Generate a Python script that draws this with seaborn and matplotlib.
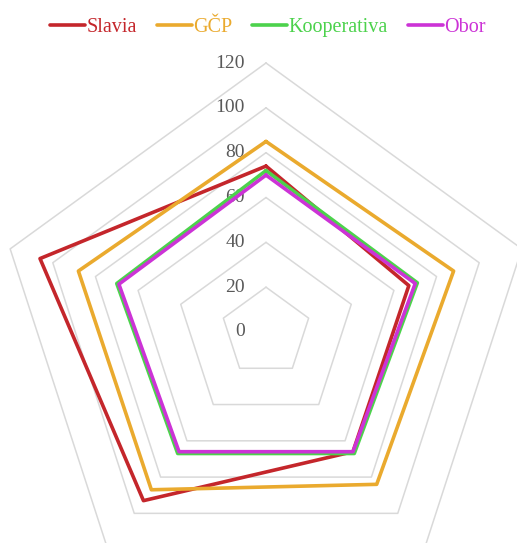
import numpy as np
import pandas as pd
import seaborn as sns
import matplotlib.pyplot as plt
from matplotlib.lines import Line2D

# values per axis: top, upper-right, lower-right, lower-left, upper-left
companies = ['Slavia', 'GČP', 'Kooperativa', 'Obor']
slavia = [74, 67, 66, 93, 106]
gcp = [85, 88, 84, 87, 88]
kooperativa = [72, 71, 67, 67, 70]
obor = [70, 70, 66, 66, 69]
tick_values = [0, 20, 40, 60, 80, 100, 120]

colors = ['#C4262B', '#EAAA2E', '#4CD24C', '#CC33D6']

sns.set_style('white')
plt.rcParams['font.family'] = ['Liberation Serif', 'DejaVu Serif']

n_axes = len(slavia)
theta = np.linspace(0, 2 * np.pi, n_axes, endpoint=False)
theta_closed = np.append(theta, theta[0])

# long table for seaborn, each polygon closed
rows = []
for name, vals in zip(companies, [slavia, gcp, kooperativa, obor]):
    vals_closed = vals + vals[:1]
    for i, (t, v) in enumerate(zip(theta_closed, vals_closed)):
        rows.append({'company': name, 'order': i, 'theta': t, 'value': v})
df = pd.DataFrame(rows)

fig = plt.figure(figsize=(5.17, 5.43), dpi=100)
rmax = 125
px_per_unit = 269 / 120
size_px = 2 * rmax * px_per_unit
cx, cy = 266, 543 - 332
ax = fig.add_axes([(cx - size_px / 2) / 517, (cy - size_px / 2) / 543,
                   size_px / 517, size_px / 543], projection='polar')
ax.set_theta_offset(np.pi / 2)
ax.set_theta_direction(-1)
ax.set_ylim(0, rmax)
ax.grid(False)
ax.spines['polar'].set_visible(False)
ax.set_xticks([])
ax.set_yticks([])
ax.patch.set_alpha(0)

# pentagon gridlines
for v in tick_values[1:]:
    ax.plot(theta_closed, [v] * (n_axes + 1), color='#D9D9D9', lw=1.1,
            zorder=1, clip_on=False)

sns.lineplot(data=df, x='theta', y='value', hue='company', units='company',
             estimator=None, sort=False, palette=colors, linewidth=2.6,
             legend=False, ax=ax, zorder=3)
ax.set_xlabel('')
ax.set_ylabel('')

# tick labels left of the top axis
for v in tick_values:
    ax.annotate(str(v), xy=(0, v), xytext=(-21, 0), textcoords='offset pixels',
                ha='right', va='center', fontsize=14, color='#595959', zorder=2)

handles = [Line2D([0], [0], color=c, lw=2.6) for c in colors]
fig.legend(handles, companies, loc='center', bbox_to_anchor=(0.518, 0.949),
           ncol=4, frameon=False, fontsize=14.5, labelcolor=colors,
           handlelength=1.75, handletextpad=0.05, columnspacing=1.0)

fig.savefig('out.png', dpi=100)
